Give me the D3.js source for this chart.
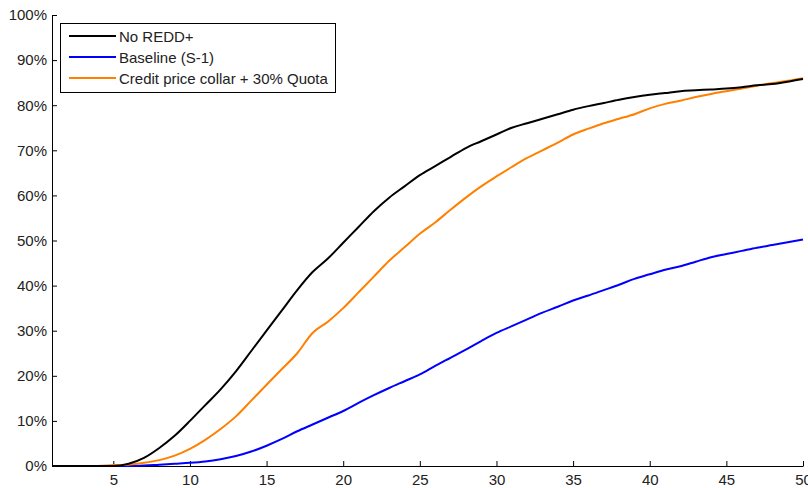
<!DOCTYPE html>
<html><head><meta charset="utf-8">
<script src="https://cdn.jsdelivr.net/npm/d3@7"></script>
<style>body{margin:0;background:#fff}svg{display:block}text{font-family:"Liberation Sans",Arial,sans-serif}</style>
</head><body>
<svg id="c" width="808" height="488"></svg>
<script>
const years = d3.range(1, 51);
const noRedd = [0,0,0,0,0,0.5,1.8,4,6.7,10,13.5,17,21,25.5,30,34.5,39,43,46,49.5,53,56.5,59.5,62,64.5,66.5,68.5,70.5,72,73.5,75,76,77,78,79,79.8,80.5,81.2,81.8,82.3,82.7,83.1,83.3,83.5,83.7,84,84.4,84.7,85.2,85.8];
const baseline = [0,0,0,0,0,0,0.1,0.3,0.5,0.7,1.0,1.5,2.2,3.2,4.5,6,7.7,9.2,10.7,12.2,14,15.7,17.3,18.8,20.3,22.2,24,25.8,27.7,29.5,31,32.5,34,35.3,36.7,37.8,39,40.2,41.5,42.5,43.5,44.3,45.3,46.3,47,47.7,48.4,49,49.6,50.2];
const collar = [0,0,0,0,0.2,0.3,0.7,1.3,2.3,3.8,5.8,8.2,11,14.5,18,21.5,25,29.5,32,35,38.5,42,45.5,48.5,51.5,54,56.8,59.5,62,64.2,66.3,68.3,70,71.7,73.5,74.8,76,77,78,79.3,80.3,81,81.8,82.5,83.1,83.7,84.3,84.9,85.4,86];
const seriesNames = ["No REDD+", "Baseline (S-1)", "Credit price collar + 30% Quota"];
const seriesColors = ["#000000", "#0000ff", "#ff8000"];
const xTicks = [5,10,15,20,25,30,35,40,45,50];
const yTicks = [0,10,20,30,40,50,60,70,80,90,100];

const svg = d3.select("#c");
const x = d3.scaleLinear().domain([1,50]).range([52,803]);
const y = d3.scaleLinear().domain([0,100]).range([466,15]);

const xa = svg.append("g").attr("transform","translate(0,466)")
  .call(d3.axisBottom(x).tickValues(xTicks).tickSize(-5).tickSizeOuter(0).tickPadding(8));
const ya = svg.append("g").attr("transform","translate(52,0)")
  .call(d3.axisLeft(y).tickValues(yTicks).tickSize(-5).tickSizeOuter(0).tickPadding(5).tickFormat(d=>d+"%"));
[xa,ya].forEach(a=>{
  a.selectAll("text").attr("font-size",15).attr("fill","#222").attr("font-family","Liberation Sans, Arial, sans-serif");
  a.selectAll("line,path").attr("stroke","#000");
});

const data = [noRedd, baseline, collar];
const line = d3.line().x((d,i)=>x(years[i])).y(d=>y(d)).curve(d3.curveMonotoneX);
[1,2,0].forEach(k=>{
  svg.append("path").attr("d", line(data[k])).attr("fill","none")
    .attr("stroke", seriesColors[k]).attr("stroke-width", 2);
});

const lg = svg.append("g");
lg.append("rect").attr("x",60.5).attr("y",23.5).attr("width",275).attr("height",69)
  .attr("fill","#fff").attr("stroke","#000");
seriesNames.forEach((n,i)=>{
  const yy = 36 + i*21;
  lg.append("line").attr("x1",69).attr("x2",116).attr("y1",yy).attr("y2",yy)
    .attr("stroke",seriesColors[i]).attr("stroke-width",2);
  lg.append("text").attr("x",119).attr("y",yy+5.5).attr("font-size",15).attr("fill","#222").text(n);
});
</script>
</body></html>
